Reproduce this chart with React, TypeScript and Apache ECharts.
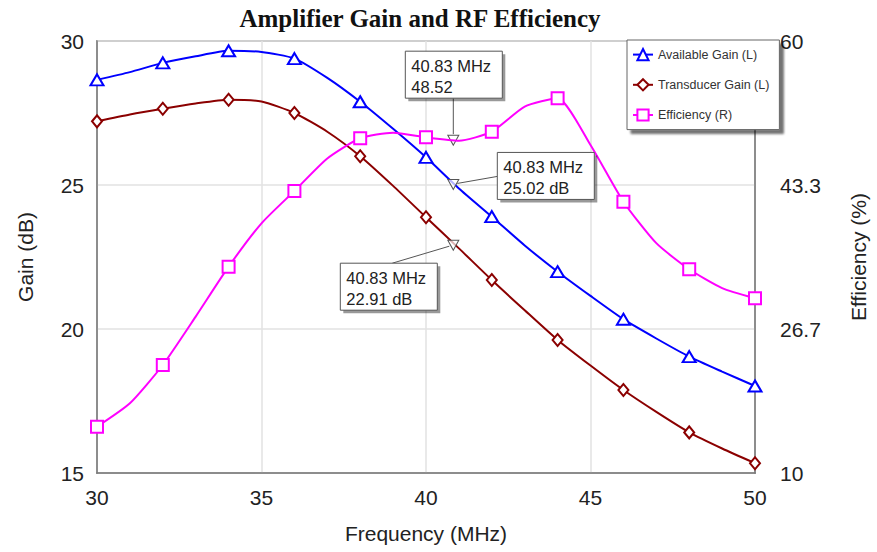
import React, { useEffect, useRef } from "react";
import * as echarts from "echarts";

const frequency = [30, 31, 32, 33, 34, 35, 36, 37, 38, 39, 40, 41, 42, 43, 44, 45, 46, 47, 48, 49, 50];
const availableGain = [28.65, 28.92, 29.24, 29.47, 29.66, 29.62, 29.39, 28.72, 27.89, 26.95, 25.96, 24.88, 23.9, 22.9, 21.99, 21.15, 20.34, 19.67, 19.04, 18.52, 18.02];
const transducerGain = [27.21, 27.45, 27.65, 27.83, 27.96, 27.9, 27.5, 26.85, 26.0, 24.97, 23.88, 22.8, 21.7, 20.65, 19.62, 18.73, 17.88, 17.12, 16.41, 15.85, 15.34];
const efficiency = [15.36, 18.07, 22.5, 28.1, 33.88, 38.9, 42.64, 46.4, 48.74, 49.39, 48.85, 48.46, 49.5, 52.4, 53.37, 47.96, 41.4, 36.6, 33.58, 31.4, 30.22];

const seriesNames = ["Available Gain (L)", "Transducer Gain (L)", "Efficiency (R)"];
const seriesColors = ["#0000ff", "#8b0000", "#ff00ff"];
const seriesSymbols = ["emptyTriangle", "emptyDiamond", "emptyRect"];

const markerFrequency = 40.83;
const markerValues = [25.02, 22.91, 48.52];
const markerUnits = [" dB", " dB", ""];

const FONT = 'Arial, "Liberation Sans", sans-serif';

export default function App() {
  const ref = useRef<HTMLDivElement>(null);
  useEffect(() => {
    if (!ref.current) return;
    const chart = echarts.init(ref.current, undefined, { renderer: "svg" });
    const datasets = [availableGain, transducerGain, efficiency];
    const symbolSizes = [[13, 11], [10, 12], [12, 12]];

    const series = datasets.map((vals, i) => ({
      name: seriesNames[i],
      type: "line",
      yAxisIndex: i === 2 ? 1 : 0,
      smooth: 0.2,
      showAllSymbol: true,
      symbol: seriesSymbols[i],
      symbolSize: symbolSizes[i],
      lineStyle: { color: seriesColors[i], width: 2 },
      itemStyle: { color: seriesColors[i], borderWidth: 2 },
      z: 3 + i,
      data: frequency.map((f, k) => ({
        value: [f, vals[k]],
        symbol: f % 2 === 0 ? seriesSymbols[i] : "none",
      })),
      markPoint: {
        symbol: "triangle",
        symbolRotate: 180,
        symbolSize: [11, 10],
        itemStyle: { color: "rgba(255,255,255,0.7)", borderColor: "#555", borderWidth: 1 },
        label: { show: false },
        data: [{ coord: [markerFrequency, markerValues[i]] }],
      },
    }));

    chart.setOption({
      animation: false,
      backgroundColor: "#fff",
      textStyle: { fontFamily: FONT },
      grid: { left: 97, right: 119, top: 41, bottom: 79, show: true, borderColor: "#777", borderWidth: 1.5, backgroundColor: "transparent" },
      legend: {
        orient: "vertical",
        left: 627,
        top: 40,
        padding: [8, 10, 8, 5],
        itemGap: 17,
        itemWidth: 20,
        itemHeight: 14,
        backgroundColor: "#fff",
        borderColor: "#666",
        borderWidth: 1,
        borderRadius: 0,
        shadowColor: "rgba(0,0,0,0.55)",
        shadowOffsetX: 4,
        shadowOffsetY: 4,
        shadowBlur: 2,
        textStyle: { fontSize: 12.5, color: "#333", fontFamily: FONT },
        z: 10,
        data: seriesNames,
      },
      xAxis: {
        type: "value",
        min: 30,
        max: 50,
        interval: 5,
        name: "Frequency (MHz)",
        nameLocation: "middle",
        nameGap: 50,
        nameTextStyle: { fontSize: 21, color: "#222", fontFamily: FONT },
        axisLine: { show: true, lineStyle: { color: "#777", width: 1.5 } },
        axisTick: { show: false },
        axisLabel: { fontSize: 21, color: "#222", margin: 14, fontFamily: FONT },
        splitLine: { show: true, lineStyle: { color: "#e2e2e2", width: 1.5 } },
      },
      yAxis: [
        {
          type: "value",
          min: 15,
          max: 30,
          interval: 5,
          name: "Gain (dB)",
          nameLocation: "middle",
          nameRotate: 90,
          nameGap: 61,
          nameTextStyle: { fontSize: 21, color: "#222", fontFamily: FONT },
          axisLine: { show: true, lineStyle: { color: "#777", width: 1.5 } },
          axisTick: { show: false },
          axisLabel: { fontSize: 21, color: "#222", margin: 13, fontFamily: FONT },
          splitLine: { show: true, lineStyle: { color: "#e2e2e2", width: 1.5 } },
        },
        {
          type: "value",
          min: 10,
          max: 60,
          alignTicks: true,
          position: "right",
          name: "Efficiency (%)",
          nameLocation: "middle",
          nameRotate: 90,
          nameGap: 93,
          nameTextStyle: { fontSize: 21, color: "#222", fontFamily: FONT },
          axisLine: { show: true, lineStyle: { color: "#777", width: 1.5 } },
          axisTick: { show: false },
          axisLabel: {
            fontSize: 21,
            color: "#222",
            margin: 25,
            fontFamily: FONT,
            formatter: (v: number) => (Math.abs(v - Math.round(v)) < 1e-6 ? String(Math.round(v)) : v.toFixed(1)),
          },
          splitLine: { show: false },
        },
      ],
      series,
    });

    // annotation boxes positioned relative to the marker points
    const pts = markerValues.map((v, i) => chart.convertToPixel({ seriesIndex: i }, [markerFrequency, v]) as number[]);
    const boxW = 97;
    const boxH = 47;
    const layouts = pts.map((p, i) => {
      const [px, py] = p;
      if (i === 0) return { left: px + 44, top: py - 32, from: [px + 4, py - 1], to: [px + 44, py - 8] };
      if (i === 1) return { left: px - 113, top: py + 18, from: [px - 4, py + 1], to: [px - 61, py + 18] };
      return { left: px - 48, top: py - 89, from: [px, py - 6], to: [px, py - 42] };
    });
    const graphic: any[] = [
      {
        type: "text",
        x: 420,
        y: 18,
        z: 20,
        style: {
          text: "Amplifier Gain and RF Efficiency",
          font: 'bold 25px "Liberation Serif", "Times New Roman", serif',
          fill: "#111",
          textAlign: "center",
          textVerticalAlign: "middle",
        },
      },
    ];
    layouts.forEach((l, i) => {
      graphic.push({
        type: "line",
        z: 15,
        shape: { x1: l.from[0], y1: l.from[1], x2: l.to[0], y2: l.to[1] },
        style: { stroke: "#555", lineWidth: 1 },
      });
      graphic.push({
        type: "rect",
        z: 15,
        shape: { x: l.left + 3, y: l.top + 3, width: boxW, height: boxH },
        style: { fill: "rgba(0,0,0,0.4)" },
      });
      graphic.push({
        type: "rect",
        z: 16,
        shape: { x: l.left, y: l.top, width: boxW, height: boxH },
        style: { fill: "#fff", stroke: "#555", lineWidth: 1 },
      });
      graphic.push({
        type: "text",
        z: 17,
        x: l.left + 6,
        y: l.top + 4,
        style: {
          text: `${markerFrequency} MHz\n${markerValues[i].toFixed(2)}${markerUnits[i]}`,
          font: `16.5px ${FONT}`,
          lineHeight: 21,
          fill: "#222",
          textAlign: "left",
          textVerticalAlign: "top",
        },
      });
    });
    chart.setOption({ graphic });

    return () => chart.dispose();
  }, []);
  return <div ref={ref} style={{ position: "fixed", left: 0, top: 0, width: 877, height: 552 }} />;
}
